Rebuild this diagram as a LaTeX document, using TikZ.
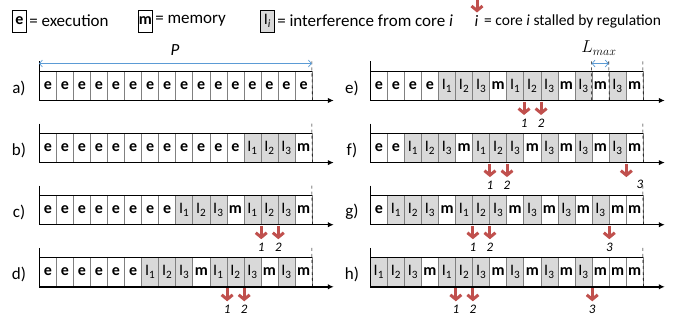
\documentclass[tikz,border=0pt]{standalone}
\usepackage{fontspec}
\setmainfont{Carlito}
\usetikzlibrary{arrows.meta}
\definecolor{stallred}{HTML}{C0504D}
\definecolor{pblue}{HTML}{5B9BD5}
\definecolor{igray}{HTML}{D9D9D9}
\definecolor{sepgray}{HTML}{808080}
\newcommand\tlrow[4]{%
  \foreach \c [count=\k from 0] in {#4} {
    \node (#1\k) at ({#2+\k*17.05}, #3) [tcell\c];
  }
  \coordinate (#1tick) at (#2, #3-39);
  \coordinate (#1end) at ({#2+16*17.05}, #3-39);
  \coordinate (#1tip) at ({#2+16*17.05+22}, #3);
  \draw[thinline] (#10.north west) -- (#115.north east);
  \draw[thinline] (#1tick) -- (#10.south west);
  \draw[thinline, dashed] (#1end) -- (#115.south east);
  \draw[axisline] (#10.south west) -- (#1tip);
}
\newcommand\stallat[3]{%
  \path (#1#2.south east) ++(0,1.5) coordinate (#1sa#3) ++(0,13) coordinate (#1sb#3);
  \draw[stall] (#1sa#3) -- (#1sb#3);
  \node[numlbl] (#1n#3) at ([yshift=-8pt]#1sb#3) {#3};
}
\newcommand\stallonly[3]{%
  \path (#1#2.south east) ++(0,1.5) coordinate (#1sa#3) ++(0,13) coordinate (#1sb#3);
  \draw[stall] (#1sa#3) -- (#1sb#3);
}
\begin{document}
\begin{tikzpicture}[x=1pt,y=-1pt,
  font=\fontsize{16}{19}\selectfont,
  cellbase/.style={draw=sepgray, line width=0.6pt, minimum width=17.05pt, minimum height=29pt, inner sep=0pt, anchor=south west},
  tcelle/.style={cellbase, fill=white, node contents={\bfseries e}},
  tcellm/.style={cellbase, fill=white, node contents={\bfseries m}},
  tcell1/.style={cellbase, fill=igray, node contents={I\textsubscript{1}}},
  tcell2/.style={cellbase, fill=igray, node contents={I\textsubscript{2}}},
  tcell3/.style={cellbase, fill=igray, node contents={I\textsubscript{3}}},
  legbox/.style={draw=black, line width=0.6pt, minimum width=14.5pt, minimum height=22pt, inner sep=0pt},
  legtext/.style={anchor=west, inner xsep=2pt, font=\fontsize{17}{20}\selectfont},
  rowlbl/.style={font=\fontsize{17}{20}\selectfont},
  thinline/.style={line width=0.6pt, black},
  axisline/.style={line width=1.6pt, -{Latex[length=6pt,width=5.5pt]}},
  stall/.style={stallred, line width=3pt, -{Straight Barb[length=4.5pt,width=11pt]}},
  numlbl/.style={font=\fontsize{13}{15}\selectfont\itshape},
  bluearrow/.style={pblue, line width=0.7pt, {Straight Barb[length=3pt,width=7pt]}-{Straight Barb[length=3pt,width=7pt]}},
]
\useasboundingbox (0,0) rectangle (673,323);
% legend
\node[legbox] (lege) at (19.5,21) {\bfseries e};
\node[legtext] (legetext) at (lege.east) {= execution};
\node[legbox] (legm) at (145.5,21) {\bfseries m};
\node[legtext] (legmtext) at (legm.east) {= memory};
\node[legbox, fill=igray] (legi) at (267.5,21) {I\textsubscript{\itshape i}};
\node[legtext] (legitext) at (legi.east) {= interference from core \textit{i}};
\coordinate (legsa) at (477,0);
\coordinate (legsb) at (477,12.5);
\draw[stall] (legsa) -- (legsb);
\node[font=\fontsize{16}{18}\selectfont\itshape] (legnum) at (476.5,21) {i};
\node[legtext, font=\fontsize{15.5}{18}\selectfont] (legstext) at (482,21) {= core \textit{i} stalled by regulation};
% left rows
\tlrow{a}{39}{100.5}{e,e,e,e,e,e,e,e,e,e,e,e,e,e,e,e}
\tlrow{b}{39}{162.6}{e,e,e,e,e,e,e,e,e,e,e,e,1,2,3,m}
\tlrow{c}{39}{224.7}{e,e,e,e,e,e,e,e,1,2,3,m,1,2,3,m}
\tlrow{d}{39}{286.8}{e,e,e,e,e,e,1,2,3,m,1,2,3,m,3,m}
% right rows
\tlrow{e}{370}{100.5}{e,e,e,e,1,2,3,m,1,2,3,m,3,m,3,m}
\tlrow{f}{370}{162.6}{e,e,1,2,3,m,1,2,3,m,3,m,3,m,3,m}
\tlrow{g}{370}{224.7}{e,1,2,3,m,1,2,3,m,3,m,3,m,3,m,m}
\tlrow{h}{370}{286.8}{1,2,3,m,1,2,3,m,3,m,3,m,3,m,m,m}
% row labels
\node[rowlbl] (la) at (19,88) {a)};
\node[rowlbl] (lb) at (19,150) {b)};
\node[rowlbl] (lc) at (19,212) {c)};
\node[rowlbl] (ld) at (19,274) {d)};
\node[rowlbl] (le) at (352,88) {e)};
\node[rowlbl] (lf) at (352,150) {f)};
\node[rowlbl] (lg) at (352,212) {g)};
\node[rowlbl] (lh) at (352,274) {h)};
% P arrow
\coordinate (pL) at (39,63.5);
\coordinate (pR) at (311.8,63.5);
\draw[bluearrow] (pL) -- (pR);
\node[font=\fontsize{17}{19}\selectfont\itshape] (plbl) at (175,50) {P};
% L_max
\coordinate (lmL) at (591.65,61.5);
\coordinate (lmR) at (608.7,61.5);
\draw[thinline, dashed] (lmL) -- (e13.south west);
\draw[thinline, dashed] (lmR) -- (e13.south east);
\draw[bluearrow] ([yshift=-2pt]lmL) -- ([yshift=-2pt]lmR);
\node[font=\fontsize{18}{20}\selectfont] (lmlbl) at (599,48) {$L_{max}$};
% stall arrows
\stallat{c}{12}{1}\stallat{c}{13}{2}
\stallat{d}{10}{1}\stallat{d}{11}{2}
\stallat{e}{8}{1}\stallat{e}{9}{2}
\stallat{f}{6}{1}\stallat{f}{7}{2}
\stallonly{f}{14}{3}
\node[numlbl] (fn3) at (640,184) {3};
\stallat{g}{5}{1}\stallat{g}{6}{2}\stallat{g}{13}{3}
\stallat{h}{4}{1}\stallat{h}{5}{2}\stallat{h}{12}{3}
\end{tikzpicture}
\end{document}
